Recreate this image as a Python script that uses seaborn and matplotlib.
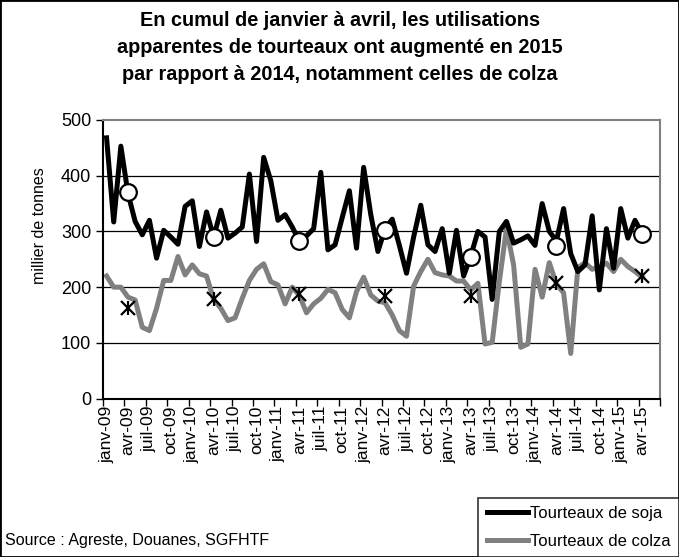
import numpy as np
import pandas as pd
import matplotlib
matplotlib.use("Agg")
import matplotlib.pyplot as plt
import seaborn as sns
from matplotlib.patches import Rectangle

# monthly apparent use, thousand tonnes, janv-09 .. avr-15
soja = [468, 317, 453, 368, 318, 294, 320, 252, 302, 290, 277, 345,
        355, 273, 335, 290, 338, 288, 297, 308, 403, 282, 433, 391,
        320, 330, 308, 282, 292, 305, 406, 267, 276, 325, 373, 270,
        415, 330, 264, 305, 322, 275, 225, 290, 347, 276, 264, 305,
        225, 302, 220, 256, 300, 290, 178, 300, 318, 279, 285, 292,
        275, 350, 300, 283, 341, 260, 228, 240, 328, 195, 305, 234,
        341, 288, 320, 296]
colza = [220, 200, 200, 182, 177, 128, 122, 162, 212, 212, 255, 222,
         240, 224, 220, 178, 162, 140, 145, 180, 212, 232, 242, 210,
         204, 170, 200, 185, 154, 170, 180, 196, 190, 160, 145, 192,
         218, 186, 175, 172, 150, 122, 112, 202, 228, 250, 226, 222,
         220, 211, 211, 195, 207, 98, 101, 210, 305, 240, 92, 98,
         232, 182, 244, 205, 190, 81, 235, 244, 232, 237, 243, 228,
         250, 237, 228, 218]

# january-april averages, plotted at the april of each year
avril_idx = [3, 15, 27, 39, 51, 63, 75]
cumul_soja = [370, 290, 282, 303, 255, 273, 296]
cumul_colza = [163, 178, 187, 184, 184, 208, 220]

tick_labels = ["janv-09", "avr-09", "juil-09", "oct-09", "janv-10", "avr-10",
               "juil-10", "oct-10", "janv-11", "avr-11", "juil-11", "oct-11",
               "janv-12", "avr-12", "juil-12", "oct-12", "janv-13", "avr-13",
               "juil-13", "oct-13", "janv-14", "avr-14", "juil-14", "oct-14",
               "janv-15", "avr-15"]
n_cat = 78  # axis runs to juin-15

df = pd.DataFrame({"mois": range(len(soja)), "soja": soja, "colza": colza})

plt.rcParams["font.family"] = ["Liberation Sans", "DejaVu Sans"]
fig = plt.figure(figsize=(6.79, 5.57), dpi=100)
ax = fig.add_axes([103 / 679, 1 - 398.6 / 557, 557 / 679, 278.6 / 557])

sns.lineplot(data=df, x="mois", y="soja", ax=ax, color="black", linewidth=3.6,
             label="Tourteaux de soja", zorder=3)
sns.lineplot(data=df, x="mois", y="colza", ax=ax, color="#808080", linewidth=3.6,
             label="Tourteaux de colza", zorder=2)

ax.plot(avril_idx, cumul_soja, "o", ms=12, mfc="white", mec="black", mew=1.6, zorder=5)
ax.plot(avril_idx, cumul_colza, "x", ms=10, mec="black", mew=1.6, zorder=5)
ax.plot(avril_idx, cumul_colza, "|", ms=10, mec="black", mew=1.6, zorder=5)

ax.set_xlim(-0.5, n_cat - 0.5)
ax.set_ylim(0, 500)
ax.set_yticks(range(0, 501, 100))
for y in range(100, 500, 100):
    ax.axhline(y, color="black", linewidth=0.9, zorder=1)

ax.set_xticks(range(0, 76, 3))
ax.set_xticklabels(tick_labels, rotation=90, fontsize=12.5)
ax.set_xticks(np.arange(-0.5, n_cat, 3), minor=True)
ax.tick_params(axis="x", which="major", length=0, pad=5)
ax.tick_params(axis="x", which="minor", length=5, width=1, direction="out")
ax.tick_params(axis="y", length=5, width=1, direction="out", labelsize=13)

ax.set_xlabel("")
ax.set_ylabel("millier de tonnes", fontsize=11.5)
ax.yaxis.set_label_coords(-0.1, 0.62)
ax.spines["left"].set_color("black")
ax.spines["bottom"].set_color("black")
ax.spines["top"].set_color("#808080")
ax.spines["right"].set_color("#808080")
for s in ax.spines.values():
    s.set_linewidth(1.5)

handles, labels = ax.get_legend_handles_labels()
ax.get_legend().remove()
leg = fig.legend(handles, labels, loc="lower right", bbox_to_anchor=(1.0, 0.0),
                 fontsize=12, frameon=True, fancybox=False, edgecolor="black",
                 handlelength=2.5, handletextpad=0.1, borderpad=0.5,
                 labelspacing=0.75, borderaxespad=0)
leg.get_frame().set_linewidth(1.2)

fig.text(340 / 679, 1 - 11 / 557,
         "En cumul de janvier à avril, les utilisations\n"
         "apparentes de tourteaux ont augmenté en 2015\n"
         "par rapport à 2014, notamment celles de colza",
         ha="center", va="top", fontsize=14.3, fontweight="bold", linespacing=1.55)
fig.text(5 / 679, 1 - 540 / 557, "Source : Agreste, Douanes, SGFHTF",
         ha="left", va="center", fontsize=11.5)

fig.patches.append(Rectangle((0, 0), 1, 1, transform=fig.transFigure, fill=False,
                             edgecolor="black", linewidth=2))

fig.savefig("out.png", dpi=100)
